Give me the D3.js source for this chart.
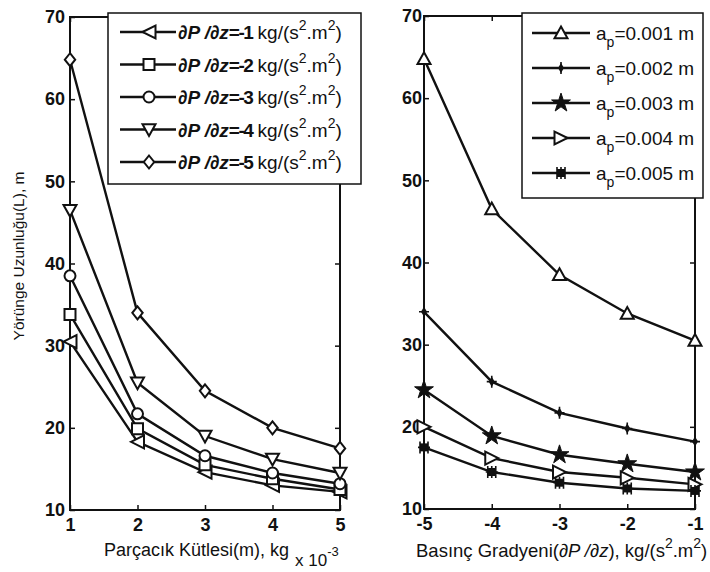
<!DOCTYPE html>
<html>
<head>
<meta charset="utf-8">
<script src="https://cdn.jsdelivr.net/npm/d3@7"></script>
<style>
  html, body { margin: 0; padding: 0; background: #fff; }
  svg { display: block; font-family: "Liberation Sans", Arial, sans-serif; }
</style>
</head>
<body>
<svg id="chart" width="710" height="572"></svg>
<script>
// Left panel: trajectory length vs particle mass, one curve per pressure gradient
const massTicks = [1, 2, 3, 4, 5];
const gradM1 = [30.5, 18.3, 14.6, 13.0, 12.2];
const gradM2 = [33.8, 19.9, 15.5, 13.8, 12.5];
const gradM3 = [38.5, 21.7, 16.6, 14.5, 13.2];
const gradM4 = [46.5, 25.5, 19.0, 16.2, 14.5];
const gradM5 = [64.8, 34.0, 24.5, 20.0, 17.5];
const leftSeries = [
  { grad: "-1", values: gradM1, marker: "triLeft" },
  { grad: "-2", values: gradM2, marker: "square" },
  { grad: "-3", values: gradM3, marker: "circle" },
  { grad: "-4", values: gradM4, marker: "triDown" },
  { grad: "-5", values: gradM5, marker: "diamond" }
];

// Right panel: trajectory length vs pressure gradient, one curve per particle radius
const gradTicks = [-5, -4, -3, -2, -1];
const ap001 = [64.8, 46.5, 38.5, 33.8, 30.5];
const ap002 = [34.0, 25.5, 21.7, 19.8, 18.2];
const ap003 = [24.5, 18.9, 16.6, 15.5, 14.5];
const ap004 = [20.0, 16.2, 14.5, 13.8, 13.0];
const ap005 = [17.5, 14.5, 13.2, 12.5, 12.2];
const rightSeries = [
  { ap: "0.001", values: ap001, marker: "triUp" },
  { ap: "0.002", values: ap002, marker: "dot" },
  { ap: "0.003", values: ap003, marker: "star" },
  { ap: "0.004", values: ap004, marker: "triRight" },
  { ap: "0.005", values: ap005, marker: "hex" }
];

const yTicks = [10, 20, 30, 40, 50, 60, 70];

const svg = d3.select("#chart");
const ink = "#111";

function markerPath(kind) {
  const s = 6.5;
  switch (kind) {
    case "triLeft": return `M${-s},0L${s},${-s}L${s},${s}Z`;
    case "triRight": return `M${s},0L${-s},${-s}L${-s},${s}Z`;
    case "triUp": return `M0,${-s}L${s},${s * 0.8}L${-s},${s * 0.8}Z`;
    case "triDown": return `M0,${s}L${s},${-s * 0.8}L${-s},${-s * 0.8}Z`;
    case "square": return `M${-5.5},${-5.5}H5.5V5.5H${-5.5}Z`;
    case "diamond": return `M0,${-s}L${s * 0.8},0L0,${s}L${-s * 0.8},0Z`;
    default: return null;
  }
}

function drawMarker(g, kind, x, y) {
  const m = g.append("g").attr("transform", `translate(${x},${y})`);
  if (kind === "circle") {
    m.append("circle").attr("r", 5.5).attr("fill", "#fff").attr("stroke", ink).attr("stroke-width", 2);
  } else if (kind === "dot") {
    m.append("path").attr("d", "M0,-5L3,0L0,5L-3,0Z").attr("fill", ink);
    m.append("path").attr("d", "M-5,0H5M0,-6V6").attr("stroke", ink).attr("stroke-width", 1.6);
  } else if (kind === "star") {
    m.append("path")
      .attr("d", d3.symbol(d3.symbolStar, 110)())
      .attr("fill", ink).attr("stroke", ink).attr("stroke-width", 1);
  } else if (kind === "hex") {
    m.append("path").attr("d", "M-4,-4H4V4H-4Z").attr("fill", ink);
    m.append("path").attr("d", "M-6,0H6M0,-6V6M-4,-6V6M4,-6V6").attr("stroke", ink).attr("stroke-width", 1.6);
  } else {
    m.append("path").attr("d", markerPath(kind)).attr("fill", "#fff").attr("stroke", ink).attr("stroke-width", 2);
  }
}

function panel(opts) {
  const { x, y, xTicks, series, xFmt } = opts;
  const g = svg.append("g");
  const [x0, x1] = x.range();
  const [y0, y1] = y.range();

  const tickFont = (sel) => sel.selectAll("text")
    .attr("font-size", 18).attr("font-weight", "bold").attr("fill", ink)
    .attr("font-family", "'Liberation Sans', Arial, sans-serif");
  const clean = (sel) => { sel.select(".domain").remove(); sel.selectAll("line").attr("stroke", ink).attr("stroke-width", 1.5); };

  g.append("g").attr("transform", `translate(0,${y0})`)
    .call(d3.axisBottom(x).tickValues(xTicks).tickFormat(xFmt).tickSize(-5).tickPadding(8))
    .call(clean).call(tickFont);
  g.append("g").attr("transform", `translate(0,${y1})`)
    .call(d3.axisTop(x).tickValues(xTicks).tickFormat("").tickSize(-5))
    .call(clean);
  g.append("g").attr("transform", `translate(${x0},0)`)
    .call(d3.axisLeft(y).tickValues(yTicks).tickSize(-5).tickPadding(opts.yPad))
    .call(clean).call(tickFont);
  g.append("g").attr("transform", `translate(${x1},0)`)
    .call(d3.axisRight(y).tickValues(yTicks).tickFormat("").tickSize(-5))
    .call(clean);

  g.append("rect")
    .attr("x", x0).attr("y", y1).attr("width", x1 - x0).attr("height", y0 - y1)
    .attr("fill", "none").attr("stroke", ink).attr("stroke-width", 2);

  const line = d3.line().x((d, i) => x(xTicks[i])).y(d => y(d));
  series.forEach(s => {
    g.append("path").datum(s.values)
      .attr("d", line).attr("fill", "none").attr("stroke", ink).attr("stroke-width", 2.4);
    s.values.forEach((v, i) => drawMarker(g, s.marker, x(xTicks[i]), y(v)));
  });
  return g;
}

// ---- left panel
const xL = d3.scaleLinear().domain([1, 5]).range([70, 340]);
const yL = d3.scaleLinear().domain([10, 70]).range([510, 17]);
panel({ x: xL, y: yL, xTicks: massTicks, series: leftSeries, xFmt: d3.format("d"), yPad: 5 });

// ---- right panel
const xR = d3.scaleLinear().domain([-5, -1]).range([424, 695]);
const yR = d3.scaleLinear().domain([10, 70]).range([509, 16]);
panel({ x: xR, y: yR, xTicks: gradTicks, series: rightSeries, xFmt: d => String(d), yPad: 2 });

// ---- axis titles
svg.append("text")
  .attr("transform", "translate(24,256) rotate(-90)")
  .attr("text-anchor", "middle").attr("font-size", 15.5).attr("fill", ink)
  .text("Yörünge Uzunluğu(L), m");

svg.append("text").attr("x", 104).attr("y", 556).attr("font-size", 18).attr("fill", ink)
  .text("Parçacık Kütlesi(m), kg");
const exp = svg.append("text").attr("x", 295).attr("y", 566).attr("font-size", 17).attr("fill", ink);
exp.append("tspan").text("x 10");
exp.append("tspan").attr("dy", -10).attr("font-size", 13).text("-3");

const xrl = svg.append("text").attr("x", 416).attr("y", 557).attr("font-size", 18.5).attr("fill", ink);
xrl.append("tspan").text("Basınç Gradyeni(");
xrl.append("tspan").attr("font-style", "italic").text("∂P /∂z");
xrl.append("tspan").text("), kg/(s");
xrl.append("tspan").attr("dy", -9).attr("font-size", 14).text("2");
xrl.append("tspan").attr("dy", 9).text(".m");
xrl.append("tspan").attr("dy", -9).attr("font-size", 14).text("2");
xrl.append("tspan").attr("dy", 9).text(")");

// ---- legends
const legL = svg.append("g");
legL.append("rect").attr("x", 108).attr("y", 13).attr("width", 253).attr("height", 171)
  .attr("fill", "#fff").attr("stroke", ink).attr("stroke-width", 1.5);
leftSeries.forEach((s, i) => {
  const cy = 32 + i * 32.5;
  legL.append("line").attr("x1", 120).attr("x2", 176).attr("y1", cy).attr("y2", cy)
    .attr("stroke", ink).attr("stroke-width", 2.4);
  drawMarker(legL, s.marker, 149, cy);
  const t = legL.append("text").attr("x", 178).attr("y", cy + 7).attr("font-size", 19).attr("fill", ink);
  t.append("tspan").attr("font-weight", "bold").attr("font-style", "italic").text("∂P /∂z");
  t.append("tspan").attr("font-weight", "bold").attr("letter-spacing", -1.5).text("=" + s.grad);
  t.append("tspan").text(" kg/(s");
  t.append("tspan").attr("dy", -9).attr("font-size", 14).text("2");
  t.append("tspan").attr("dy", 9).text(".m");
  t.append("tspan").attr("dy", -9).attr("font-size", 14).text("2");
  t.append("tspan").attr("dy", 9).text(")");
});

const legR = svg.append("g");
legR.append("rect").attr("x", 522).attr("y", 13).attr("width", 181).attr("height", 185)
  .attr("fill", "#fff").attr("stroke", ink).attr("stroke-width", 1.5);
rightSeries.forEach((s, i) => {
  const cy = 33 + i * 35;
  legR.append("line").attr("x1", 532).attr("x2", 590).attr("y1", cy).attr("y2", cy)
    .attr("stroke", ink).attr("stroke-width", 2.4);
  drawMarker(legR, s.marker, 561, cy);
  const t = legR.append("text").attr("x", 596).attr("y", cy + 7).attr("font-size", 19).attr("fill", ink);
  t.append("tspan").text("a");
  t.append("tspan").attr("dy", 7).attr("font-size", 14).text("p");
  t.append("tspan").attr("dy", -7).text("=" + s.ap + " m");
});
</script>
</body>
</html>
